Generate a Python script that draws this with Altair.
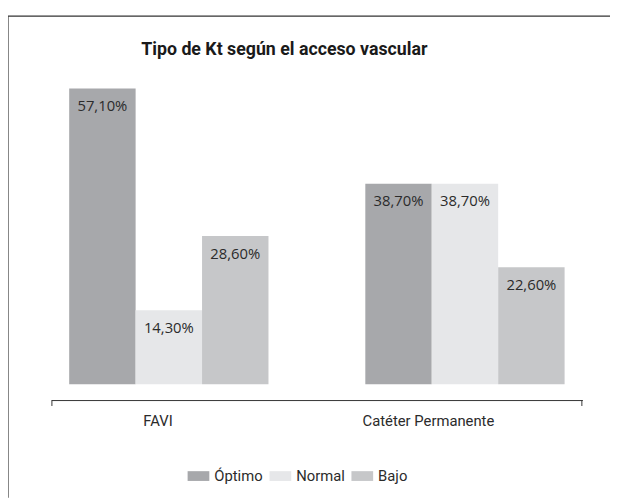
import altair as alt
import pandas as pd

title_text = "Tipo de Kt según el acceso vascular"
categories = ["FAVI", "FAVI", "FAVI", "Catéter Permanente", "Catéter Permanente", "Catéter Permanente"]
series = ["Óptimo", "Normal", "Bajo", "Óptimo", "Normal", "Bajo"]
values = [57.10, 14.30, 28.60, 38.70, 38.70, 22.60]
labels = ["57,10%", "14,30%", "28,60%", "38,70%", "38,70%", "22,60%"]

cat_order = ["FAVI", "Catéter Permanente"]
ser_order = ["Óptimo", "Normal", "Bajo"]
colors = ["#a7a8ab", "#e6e7e9", "#c6c7c9"]

df = pd.DataFrame({"cat": categories, "ser": series, "val": values, "lab": labels})
tdf = pd.DataFrame({"t": [title_text]})

COND = "Roboto"

x = alt.X("cat:N", sort=cat_order, title=None,
          scale=alt.Scale(paddingInner=0.327, paddingOuter=0.06),
          axis=alt.Axis(offset=16, ticks=False, domainColor="#333333", domainWidth=1,
                        labelAngle=0, labelFont=COND, labelFontSize=15, labelFontWeight="normal",
                        labelColor="#2b2b2b", labelPadding=14,
                        labelOffset={"condition": {"test": "datum.value == 'FAVI'", "value": -11}, "value": -37}))
xo = alt.XOffset("ser:N", sort=ser_order, scale=alt.Scale(paddingInner=0, paddingOuter=0))
y = alt.Y("val:Q", scale=alt.Scale(domain=[0, 60]), axis=None)

bars = alt.Chart(df).mark_bar().encode(
    x=x, xOffset=xo, y=y,
    color=alt.Color("ser:N", sort=ser_order,
                    scale=alt.Scale(domain=ser_order, range=colors),
                    legend=alt.Legend(title=None, orient="none", legendX=138, legendY=397,
                                      direction="horizontal",
                                      symbolType="M-1,-0.45L1,-0.45L1,0.45L-1,0.45Z",
                                      symbolSize=484, symbolStrokeWidth=0, symbolOpacity=1,
                                      labelFont=COND, labelFontSize=15, labelFontWeight="normal",
                                      labelColor="#2b2b2b", columnPadding=6, labelOffset=5))
)

text = alt.Chart(df).mark_text(font="Open Sans", fontSize=15, color="#2b2b2b", dy=18).encode(
    x=x, xOffset=xo, y=y, text="lab:N"
)

title = alt.Chart(tdf).mark_text(font=COND, fontSize=18, fontWeight="bold", color="#1a1a1a",
                                 align="center", baseline="middle").encode(
    x=alt.value(236), y=alt.value(-24), text="t:N"
)

frame_top = alt.Chart(tdf).mark_rule(color="#333333", strokeWidth=1.2).encode(
    x=alt.value(-44), x2=alt.value(570), y=alt.value(-58)
)
frame_left = alt.Chart(tdf).mark_rule(color="#333333", strokeWidth=1.2).encode(
    x=alt.value(-44), y=alt.value(-58), y2=alt.value(430)
)
tick_l = alt.Chart(tdf).mark_rule(color="#333333", strokeWidth=1).encode(
    x=alt.value(0.5), y=alt.value(331), y2=alt.value(337)
)
tick_r = alt.Chart(tdf).mark_rule(color="#333333", strokeWidth=1).encode(
    x=alt.value(537.5), y=alt.value(331), y2=alt.value(337)
)

chart = alt.layer(bars, text, title, frame_top, frame_left, tick_l, tick_r).properties(
    width=538, height=315,
    autosize=alt.AutoSizeParams(type="none"),
    padding={"left": 44, "top": 63, "right": 28, "bottom": 115},
    background="white",
).configure_view(stroke=None)

chart.save("out.html", embed_options={"renderer": "svg", "actions": False})
